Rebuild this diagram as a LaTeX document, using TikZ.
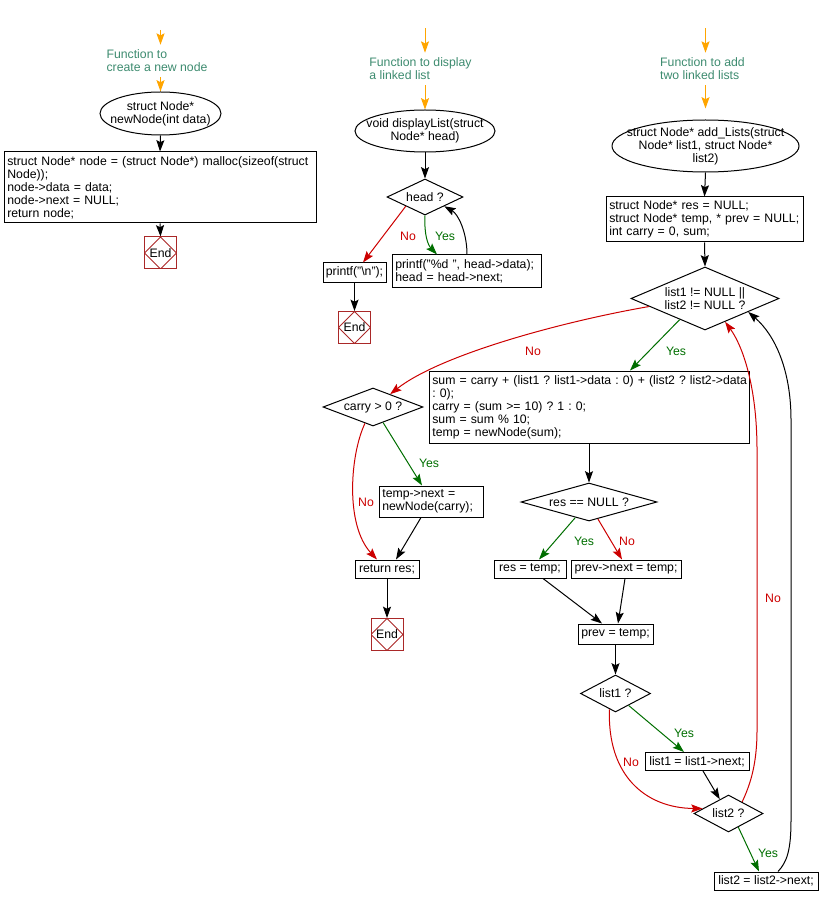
\documentclass[tikz,border=0pt]{standalone}
\usepackage{fontspec}
\setmainfont{Liberation Sans}
\usetikzlibrary{shapes.geometric,arrows.meta,calc}
\definecolor{fnc}{RGB}{61,139,111}
\definecolor{org}{RGB}{255,165,0}
\definecolor{nored}{RGB}{204,0,0}
\definecolor{yesgr}{RGB}{0,110,0}
\definecolor{endc}{RGB}{170,40,40}
\begin{document}
\frenchspacing
\hfuzz=20pt
\begin{tikzpicture}[x=0.75pt,y=-0.75pt,
  font=\fontsize{9.2}{9.75}\selectfont,
  bx/.style 2 args={draw, line width=0.75pt, rectangle, inner sep=0pt, minimum width=#1*0.75pt, minimum height=#2*0.75pt},
  mbx/.style 2 args={bx={#1}{#2}, text width=#1*0.75pt-5pt, align=left},
  dia/.style n args={3}{draw, diamond, line width=0.75pt, inner sep=0pt, minimum width=#1*0.75pt, minimum height=#2*0.75pt, aspect=#3, align=center},
  ell/.style 2 args={draw, ellipse, line width=0.75pt, inner sep=0pt, minimum width=#1*0.75pt, minimum height=#2*0.75pt},
  etext/.style={align=center, inner sep=0pt},
  fn/.style={text=fnc, align=left, inner sep=0pt, minimum height=32*0.75pt},
  endn/.style={draw=endc, line width=0.75pt, minimum width=32*0.75pt, minimum height=32*0.75pt, inner sep=0pt,
    path picture={\draw[endc, line width=0.6pt] (path picture bounding box.north) -- (path picture bounding box.east) -- (path picture bounding box.south) -- (path picture bounding box.west) -- cycle;}},
  arr/.style={-{Stealth[length=8.5pt,width=6pt,inset=1.5pt]}, line width=0.75pt},
  oarr/.style={arr, draw=org},
  yarr/.style={arr, draw=yesgr},
  narr/.style={arr, draw=nored},
  ylab/.style={text=yesgr, inner sep=0pt},
  nlab/.style={text=nored, inner sep=0pt}]
\useasboundingbox (0,0) rectangle (819,905);

% ---------- left: newNode ----------
\coordinate (oa1) at (160.5,30);
\node[fn] (t1) at (157,61) {Function to\\create a new node};
\node[ell={121}{43}] (e1) at (160.5,113.5) {};
\node[etext] (e1t) at (e1) {struct Node*\\newNode(int data)};
\node[mbx={312}{71}] (r1) at (160,187.5) {\mbox{struct Node* node = (struct Node*) malloc(sizeof(struct}\\Node));\\node->data = data;\\node->next = NULL;\\return node;};
\node[endn] (end1) at (160.5,253) {End};

\draw[oarr] (oa1) -- (oa1 |- t1.north);
\draw[oarr] (oa1 |- t1.south) -- (e1.north);
\draw[arr] (e1.south) -- (r1.north);
\draw[arr] (r1.south) -- (end1.north);

% ---------- middle: displayList ----------
\coordinate (oa2) at (425,28);
\node[fn] (t2) at (420.5,69) {Function to display\\a linked list};
\node[ell={140}{42}] (e2) at (425,131) {};
\node[etext] (e2t) at (e2) {void displayList(struct\\Node* head)};
\node[dia={76}{36}{2.1}] (d2) at (425,197) {head ?};
\node[bx={63}{19}] (p1) at (354.5,272.5) {printf("\textbackslash n");};
\node[mbx={149}{32}] (p2) at (466.5,271) {printf("\%d ", head->data);\\head = head->next;};
\node[endn] (end2) at (354.5,327.5) {End};

\draw[oarr] (oa2) -- (oa2 |- t2.north);
\draw[oarr] (oa2 |- t2.south) -- (e2.north);
\draw[arr] (e2.south) -- (d2.north);
\draw[narr] (d2.south west) -- ($(p1.north)+(8.5,0)$);
\draw[yarr] (d2.south) .. controls (424,235) and (428,245) .. ($(p2.north)+(-29.5,0)$);
\draw[arr] ($(p2.north)+(0.5,0)$) .. controls (467,232) and (458,214) .. (d2.south east);
\draw[arr] (p1.south) -- (end2.north);

% ---------- right: add_Lists ----------
\coordinate (oa3) at (705.5,28);
\node[fn] (t3) at (702.5,69) {Function to add\\two linked lists};
\node[ell={187}{52}] (e3) at (705.5,146) {};
\node[etext] (e3t) at (e3) {struct Node* add\_Lists(struct\\Node* list1, struct Node*\\list2)};
\node[mbx={197}{45}] (r3) at (704.5,219.5) {struct Node* res = NULL;\\\mbox{struct Node* temp, * prev = NULL;}\\int carry = 0, sum;};
\node[dia={148}{63}{2.35}] (d3) at (705,298.5) {list1 != NULL ||\\list2 != NULL ?};
\node[mbx={320}{72}] (r4) at (589,407) {\mbox{sum = carry + (list1 ? list1->data : 0) + (list2 ? list2->data}\\: 0);\\carry = (sum >= 10) ? 1 : 0;\\sum = sum \% 10;\\temp = newNode(sum);};
\node[dia={100}{38}{2.63}] (d4) at (373,407) {carry > 0 ?};
\node[mbx={104}{31}] (r5) at (431,501.5) {temp->next =\\newNode(carry);};
\node[bx={64}{18}] (r6) at (387,569) {return res;};
\node[endn] (end3) at (387,634.5) {End};
\node[dia={136}{38}{3.58}] (d5) at (589,502) {res == NULL ?};
\node[bx={72}{18}] (r7) at (530,569) {res = temp;};
\node[bx={110}{18}] (r8) at (626,569) {prev->next = temp;};
\node[bx={75}{20}] (r9) at (615.5,634) {prev = temp;};
\node[dia={70}{37}{1.9}] (d6) at (615.5,693.5) {list1 ?};
\node[bx={104}{18}] (r10) at (697,761.5) {list1 = list1->next;};
\node[dia={69}{37}{1.86}] (d7) at (728.5,813.5) {list2 ?};
\node[bx={104}{18}] (r11) at (766,881) {list2 = list2->next;};

\draw[oarr] (oa3) -- (oa3 |- t3.north);
\draw[oarr, shorten >=8.25pt] (oa3 |- t3.south) -- (e3.north);
\draw[arr] (e3.south) -- (r3.north);
\draw[arr] (r3.south) -- (d3.north);
\draw[narr] ($(d3.west)!0.25!(d3.south)$) .. controls (560,322) and (440,355) .. ($(d4.north)!0.34!(d4.east)$);
\draw[yarr] ($(d3.west)!0.66!(d3.south)$) -- ($(r4.north)+(41,0)$);
\draw[arr] (r4.south) -- (d5.north);
\draw[yarr] ($(d4.south)!0.2!(d4.east)$) -- ($(r5.north)+(-9,0)$);
\draw[narr] ($(d4.south)!0.16!(d4.west)$) .. controls (350,455) and (345,525) .. ($(r6.north)+(-10,0)$);
\draw[arr] ($(r5.south)+(-10,0)$) -- ($(r6.north)+(9,0)$);
\draw[arr] (r6.south) -- (end3.north);
\draw[yarr] ($(d5.south)!0.2!(d5.west)$) -- ($(r7.north)+(9,0)$);
\draw[narr] ($(d5.south)!0.13!(d5.east)$) -- ($(r8.north)+(-4,0)$);
\draw[arr] ($(r7.south)+(13,0)$) -- ($(r9.north)+(-13.5,0)$);
\draw[arr] ($(r8.south)+(-1,0)$) -- ($(r9.north)+(2.5,0)$);
\draw[arr] (r9.south) -- (d6.north);
\draw[yarr] ($(d6.south)!0.37!(d6.east)$) -- ($(r10.north)+(-13,0)$);
\draw[narr] ($(d6.south)!0.17!(d6.west)$) .. controls (607,775) and (645,808) .. ($(d7.west)!0.26!(d7.north)$);
\draw[arr] ($(r10.south)+(6,0)$) -- ($(d7.north)!0.25!(d7.west)$);
\draw[yarr] ($(d7.south)!0.28!(d7.east)$) -- ($(r11.north)+(-7,0)$);
\draw[narr] ($(d7.north)!0.39!(d7.east)$) .. controls (750,785) and (757,765) .. (757,730) -- (757,450) .. controls (757,385) and (742,345) .. ($(d3.south)!0.27!(d3.east)$);
\draw[arr] ($(r11.north)+(12,0)$) .. controls (787,862) and (791,850) .. (791,820) -- (791,420) .. controls (791,370) and (775,335) .. ($(d3.south)!0.58!(d3.east)$);

% ---------- labels ----------
\node[nlab] (l1) at (408,236) {No};
\node[ylab] (l2) at (445,236) {Yes};
\node[nlab] (l3) at (533,351) {No};
\node[ylab] (l4) at (676,351) {Yes};
\node[ylab] (l5) at (429,463) {Yes};
\node[nlab] (l6) at (366,502) {No};
\node[ylab] (l7) at (584,541) {Yes};
\node[nlab] (l8) at (627,541) {No};
\node[ylab] (l9) at (684,733) {Yes};
\node[nlab] (l10) at (631,762) {No};
\node[ylab] (l11) at (768,853) {Yes};
\node[nlab] (l12) at (773,598) {No};
\end{tikzpicture}
\end{document}
